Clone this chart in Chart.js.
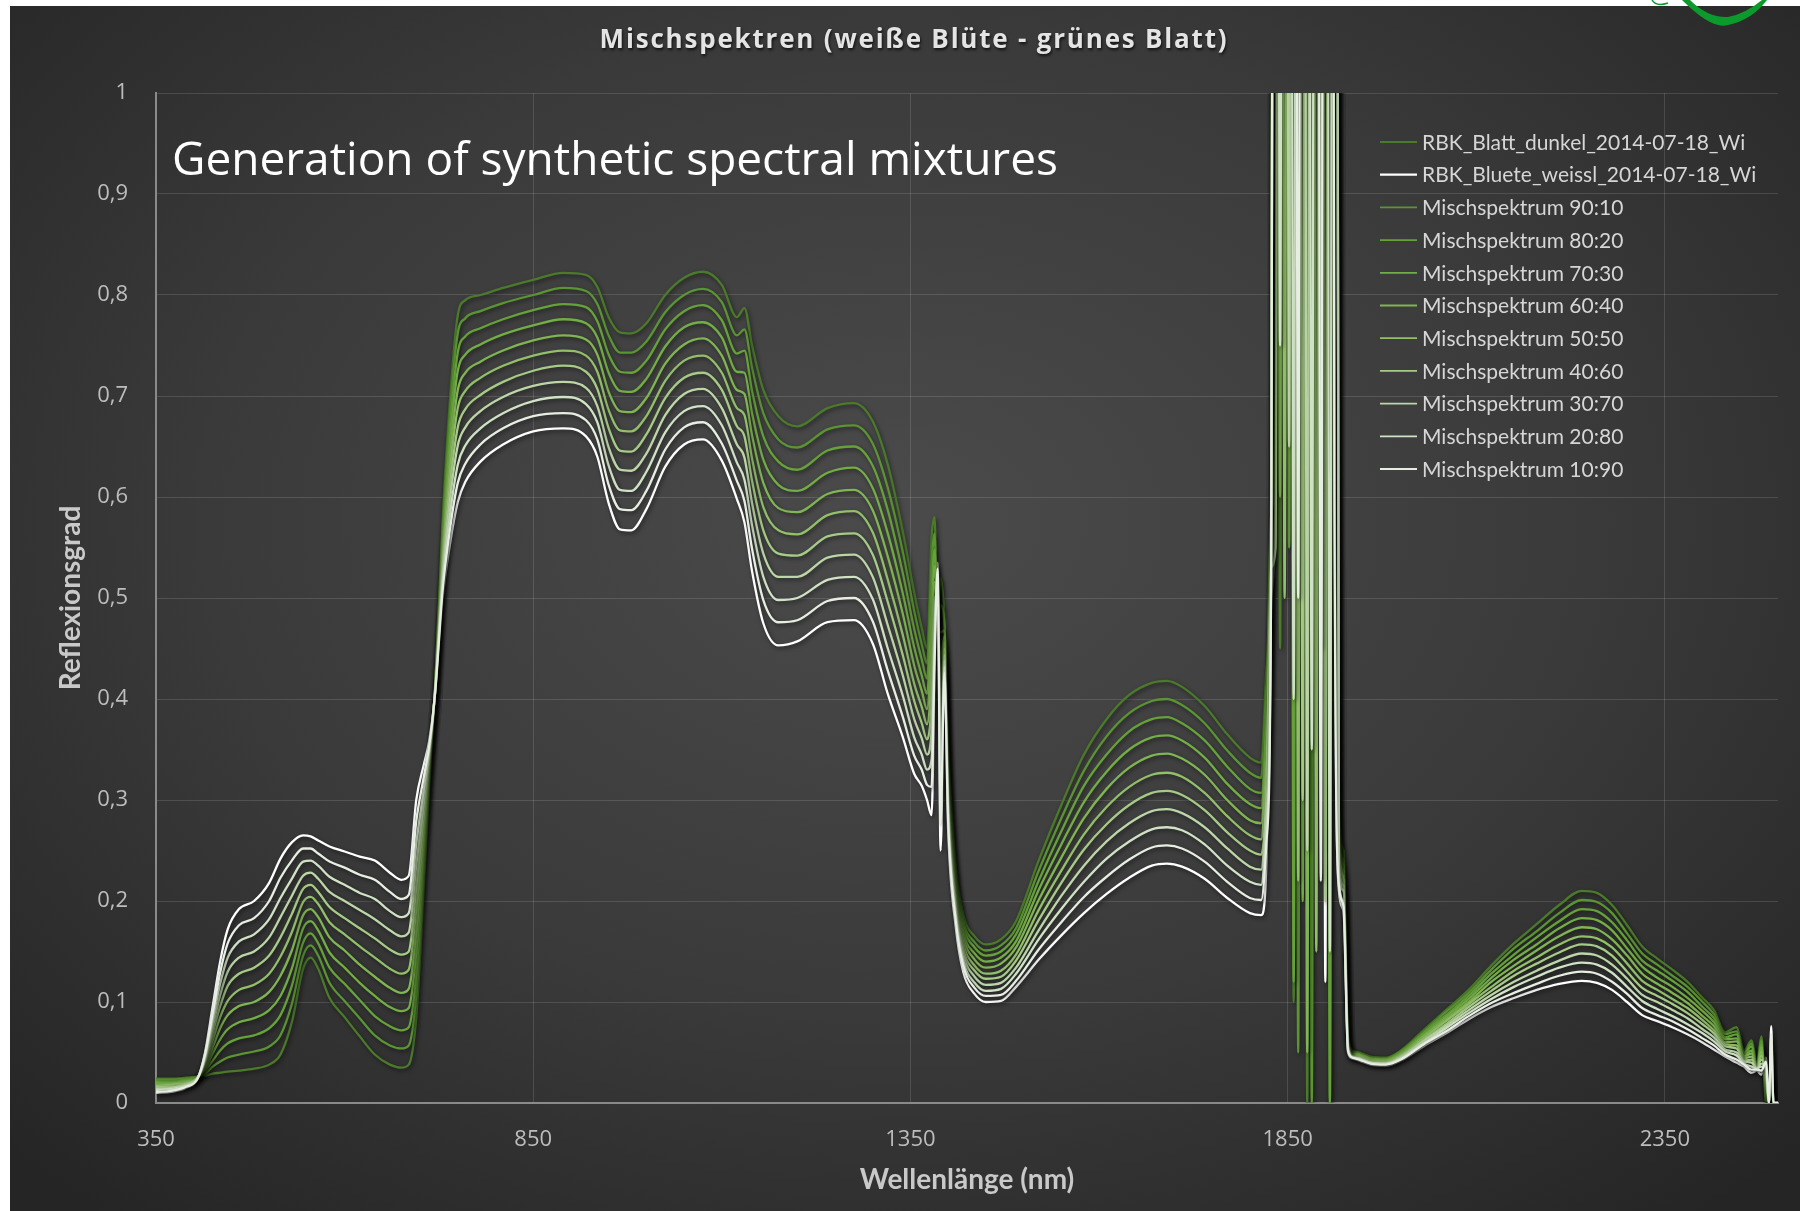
<!DOCTYPE html>
<html lang="de">
<head>
<meta charset="utf-8">
<title>Mischspektren</title>
<script src="https://cdn.jsdelivr.net/npm/chart.js@4.4.1/dist/chart.umd.min.js"></script>
<style>
  html, body { margin:0; padding:0; background:#fff; }
  #wrap { position:relative; width:1800px; height:1211px; }
</style>
</head>
<body>
<div id="wrap"><canvas id="chart-mix" width="1800" height="1211"></canvas></div>
<script>
// ── Data ──────────────────────────────────────────────────────
// wavelength grid (nm), one line per spectral region
const wl = [
  350,370,390,405,415,425,435,445,460,480,500,515,530,545,555,565,580,600,620,640,660,675,685,695,705,712,720,730,740,750,760,
  780,810,850,890,920,935,950,965,980,1000,1025,1050,1075,1100,1120,1130,1140,1155,1175,1200,1240,1275,1300,1320,1340,1355,1365,
  1372,1378,1382,1386,1390,1395,1400,1410,1420,1435,1450,1470,1490,
  1520,1550,1580,1610,1640,1670,1690,1710,1740,1770,1800,1815,1822,
  1828,1834,1840,1846,1852,1858,1864,1870,1876,1882,1888,1894,1900,1906,1912,1918,1924,1930,1936,
  1945,1960,1980,2000,2030,2060,2090,2120,2150,2180,2210,2240,2260,2280,2300,2320,2340,2360,2380,2400,2415,2430,2445,2455,2465,2472,2478,2484,2488,2491,2494,2500,
];

const blatt = [
  .024,.024,.025,.026,.027,.029,.030,.031,.032,.034,.038,.048,.080,.133,.144,.133,.104,.085,.066,.048,.038,.035,.038,.085,.215,.310,.415,.580,.700,.780,.795,
  .800,.807,.815,.822,.820,.808,.778,.763,.762,.772,.800,.817,.823,.810,.778,.787,.750,.706,.680,.670,.688,.693,.675,.632,.565,.505,.470,
  .450,.560,.580,.470,.520,.480,.360,.235,.186,.165,.157,.162,.180,
  .240,.295,.345,.380,.404,.416,.418,.412,.393,.365,.342,.337,.430,
  .62,3,.45,3,3,.10,3,3,0,3,3,3,3,0,3,.30,.25,.07,.052,
  .050,.046,.045,.052,.072,.092,.112,.136,.158,.177,.196,.210,.208,.196,.176,.155,.143,.132,.120,.104,.092,.070,.075,.052,.062,.040,.066,.002,0,0,0,0,
];
const bluete = [
  .010,.011,.015,.024,.050,.095,.140,.172,.192,.200,.218,.242,.258,.265,.264,.260,.254,.249,.244,.240,.228,.221,.225,.300,.335,.358,.405,.500,.555,.595,.615,
  .635,.652,.665,.668,.660,.640,.594,.568,.567,.588,.630,.652,.657,.636,.598,.575,.527,.475,.453,.457,.476,.478,.455,.405,.362,.326,.314,
  .300,.285,.420,.535,.250,.420,.270,.175,.130,.108,.100,.101,.115,
  .142,.166,.188,.207,.223,.235,.237,.234,.222,.203,.188,.186,.240,
  .50,.62,3,3,3,3,.30,3,.20,3,3,3,.12,3,.64,.21,.19,.05,.044,
  .042,.038,.037,.042,.056,.069,.083,.095,.104,.112,.118,.121,.119,.112,.100,.087,.081,.075,.068,.060,.053,.046,.040,.036,.030,.032,.028,.045,0,.076,0,0,
];
const mix90 = [
  .023,.023,.024,.026,.029,.036,.041,.045,.048,.051,.056,.067,.098,.146,.156,.146,.119,.101,.084,.067,.057,.054,.057,.107,.227,.315,.414,.572,.686,.762,.777,
  .784,.792,.800,.807,.804,.791,.760,.743,.743,.754,.783,.800,.806,.793,.760,.766,.728,.683,.657,.649,.667,.671,.653,.609,.545,.487,.454,
  .435,.532,.564,.477,.493,.474,.351,.229,.180,.159,.151,.156,.173,
  .230,.282,.329,.363,.386,.398,.400,.394,.376,.349,.327,.322,.411,
  .60,3,3,.58,3,3,.05,3,3,0,3,3,3,3,3,.29,.24,.068,.051,
  .049,.045,.044,.051,.070,.090,.109,.132,.153,.170,.188,.201,.199,.188,.168,.148,.137,.126,.115,.100,.088,.068,.071,.050,.059,.039,.062,.006,0,.008,0,0,
];
const mix80 = [
  .021,.021,.023,.026,.032,.042,.052,.059,.064,.067,.074,.087,.116,.159,.168,.158,.134,.118,.102,.086,.076,.072,.075,.128,.239,.320,.413,.564,.671,.743,.759,
  .767,.776,.785,.791,.788,.774,.741,.724,.723,.735,.766,.784,.790,.775,.742,.745,.705,.660,.635,.627,.646,.650,.631,.587,.524,.469,.439,
  .420,.505,.548,.483,.466,.468,.342,.223,.175,.154,.146,.150,.167,
  .220,.269,.314,.345,.368,.380,.382,.376,.359,.333,.311,.307,.392,
  .58,.70,3,3,3,.12,3,3,3,3,.30,3,3,0,3,.28,.235,.066,.050,
  .048,.044,.043,.050,.069,.087,.106,.128,.147,.164,.180,.192,.190,.179,.161,.141,.131,.121,.110,.095,.084,.065,.068,.049,.056,.038,.058,.011,0,.015,0,0,
];
const mix70 = [
  .020,.020,.022,.025,.034,.049,.063,.073,.080,.084,.092,.106,.133,.173,.180,.171,.149,.134,.119,.106,.095,.091,.094,.150,.251,.324,.412,.556,.657,.725,.741,
  .751,.761,.770,.776,.772,.758,.723,.705,.704,.717,.749,.768,.773,.758,.724,.723,.683,.637,.612,.606,.624,.629,.609,.564,.504,.451,.423,
  .405,.478,.532,.490,.439,.462,.333,.217,.169,.148,.140,.144,.160,
  .211,.256,.298,.328,.350,.362,.364,.359,.342,.316,.296,.292,.373,
  .57,3,3,3,.55,3,3,.20,3,3,3,3,.25,3,3,.27,.23,.064,.049,
  .048,.044,.043,.049,.067,.085,.103,.124,.142,.157,.173,.183,.181,.171,.153,.135,.124,.115,.104,.091,.080,.063,.064,.047,.052,.038,.055,.015,0,.023,0,0,
];
const mix60 = [
  .018,.019,.021,.025,.036,.055,.074,.087,.096,.100,.110,.126,.151,.186,.192,.184,.164,.151,.137,.125,.114,.109,.113,.171,.263,.329,.411,.548,.642,.706,.723,
  .734,.745,.755,.760,.756,.741,.704,.685,.684,.698,.732,.751,.757,.740,.706,.702,.661,.614,.589,.585,.603,.607,.587,.541,.484,.433,.408,
  .390,.450,.516,.496,.412,.456,.324,.211,.164,.142,.134,.138,.154,
  .201,.243,.282,.311,.332,.344,.346,.341,.325,.300,.280,.277,.354,
  .56,3,.60,3,3,3,3,3,.05,3,3,.40,3,3,3,.26,.225,.062,.048,
  .047,.043,.042,.048,.066,.083,.100,.120,.136,.151,.165,.174,.172,.162,.146,.128,.118,.109,.099,.086,.076,.060,.061,.046,.049,.037,.051,.019,0,.030,0,0,
];
const mix50 = [
  .017,.018,.020,.025,.039,.062,.085,.101,.112,.117,.128,.145,.169,.199,.204,.197,.179,.167,.155,.144,.133,.128,.132,.193,.275,.334,.410,.540,.628,.688,.705,
  .718,.730,.740,.745,.740,.724,.686,.666,.665,.680,.715,.735,.740,.723,.688,.681,.638,.590,.567,.563,.582,.586,.565,.518,.463,.415,.392,
  .375,.423,.500,.503,.385,.450,.315,.205,.158,.136,.128,.131,.147,
  .191,.230,.266,.293,.313,.325,.327,.323,.307,.284,.265,.261,.335,
  .55,3,3,.50,3,3,.22,3,3,3,.15,3,3,3,.70,.25,.22,.060,.047,
  .046,.042,.041,.047,.064,.081,.098,.115,.131,.144,.157,.165,.163,.154,.138,.121,.112,.103,.094,.082,.072,.058,.057,.044,.046,.036,.047,.023,0,.038,0,0,
];
const mix40 = [
  .016,.016,.019,.025,.041,.069,.096,.116,.128,.134,.146,.164,.187,.212,.216,.209,.194,.183,.173,.163,.152,.147,.150,.214,.287,.339,.409,.532,.613,.669,.687,
  .701,.714,.725,.730,.724,.707,.668,.646,.645,.662,.698,.718,.723,.706,.670,.660,.616,.567,.544,.542,.561,.564,.543,.496,.443,.398,.376,
  .360,.395,.484,.509,.358,.444,.306,.199,.152,.131,.123,.125,.141,
  .181,.218,.251,.276,.295,.307,.309,.305,.290,.268,.250,.246,.316,
  .53,.55,3,3,3,3,3,.30,3,3,3,3,.20,3,3,.24,.215,.058,.046,
  .045,.041,.040,.046,.062,.078,.095,.111,.126,.138,.149,.157,.155,.146,.130,.114,.106,.098,.089,.078,.069,.056,.054,.042,.043,.035,.043,.028,0,.046,0,0,
];
const mix30 = [
  .014,.015,.018,.025,.043,.075,.107,.130,.144,.150,.164,.184,.205,.225,.228,.222,.209,.200,.191,.182,.171,.165,.169,.236,.299,.344,.408,.524,.599,.651,.669,
  .685,.699,.710,.714,.708,.690,.649,.627,.626,.643,.681,.702,.707,.688,.652,.639,.594,.544,.521,.521,.540,.543,.521,.473,.423,.380,.361,
  .345,.368,.468,.516,.331,.438,.297,.193,.147,.125,.117,.119,.134,
  .171,.205,.235,.259,.277,.289,.291,.287,.273,.252,.234,.231,.297,
  .52,3,3,3,.65,3,3,3,.25,3,3,.45,3,3,3,.23,.21,.056,.046,
  .044,.040,.039,.045,.061,.076,.092,.107,.120,.131,.141,.148,.146,.137,.123,.107,.100,.092,.084,.073,.065,.053,.050,.041,.040,.034,.039,.032,0,.053,0,0,
];
const mix20 = [
  .013,.014,.017,.024,.045,.082,.118,.144,.160,.167,.182,.203,.222,.239,.240,.235,.224,.216,.208,.202,.190,.184,.188,.257,.311,.348,.407,.516,.584,.632,.651,
  .668,.683,.695,.699,.692,.674,.631,.607,.606,.625,.664,.685,.690,.671,.634,.617,.572,.521,.498,.500,.518,.521,.499,.450,.403,.362,.345,
  .330,.340,.452,.522,.304,.432,.288,.187,.141,.119,.111,.113,.128,
  .162,.192,.219,.242,.259,.271,.273,.270,.256,.235,.219,.216,.278,
  .51,3,.75,3,3,.40,3,3,3,.35,3,3,3,.15,3,.22,.20,.054,.045,
  .044,.040,.039,.044,.059,.074,.089,.103,.115,.125,.134,.139,.137,.129,.115,.101,.093,.086,.078,.069,.061,.051,.047,.039,.036,.034,.036,.036,0,.061,0,0,
];
const mix10 = [
  .011,.012,.016,.024,.048,.088,.129,.158,.176,.183,.200,.223,.240,.252,.252,.247,.239,.233,.226,.221,.209,.202,.206,.279,.323,.353,.406,.508,.570,.614,.633,
  .652,.668,.680,.683,.676,.657,.612,.588,.587,.606,.647,.669,.674,.653,.616,.596,.549,.498,.476,.478,.497,.500,.477,.428,.382,.344,.330,
  .315,.313,.436,.529,.277,.426,.279,.181,.136,.114,.106,.107,.121,
  .152,.179,.204,.224,.241,.253,.255,.252,.239,.219,.203,.201,.259,
  .50,3,3,3,3,3,.50,3,3,3,3,.22,3,3,.60,.215,.195,.052,.045,
  .043,.039,.038,.043,.058,.071,.086,.099,.109,.118,.126,.130,.128,.120,.108,.094,.087,.081,.073,.064,.057,.048,.043,.038,.033,.033,.032,.041,0,.068,0,0,
];

const labels = [
  'RBK_Blatt_dunkel_2014-07-18_Wi', 'RBK_Bluete_weissl_2014-07-18_Wi',
  'Mischspektrum 90:10', 'Mischspektrum 80:20', 'Mischspektrum 70:30', 'Mischspektrum 60:40', 'Mischspektrum 50:50',
  'Mischspektrum 40:60', 'Mischspektrum 30:70', 'Mischspektrum 20:80', 'Mischspektrum 10:90',
];
const series = [blatt, bluete, mix90, mix80, mix70, mix60, mix50, mix40, mix30, mix20, mix10];
const xTicks = [350, 850, 1350, 1850, 2350];

// ── Colours ───────────────────────────────────────────────────
const C = {
  grid:'rgba(255,255,255,0.13)', axis:'#8a8a8a', tick:'#bdbdbd', title:'#c9c9c9', legend:'#d6d6d6',
  lines:['#4a7a2a','#ffffff','#5a9433','#66a23a','#72ad45','#80b553','#92bf6a','#a6cb86','#bcd6a8','#d0e2c6','#e6eee2'],
};

// ── Plugins ───────────────────────────────────────────────────
const backdrop = {
  id:'backdrop',
  beforeDraw(chart) {
    const { ctx, width, height } = chart;
    ctx.save();
    ctx.fillStyle = '#fff'; ctx.fillRect(0, 0, width, height);
    // dark panel, lighter towards the middle
    ctx.translate(900, 520); ctx.scale(1.4, 1);
    const g = ctx.createRadialGradient(0, 0, 0, 0, 0, 900);
    g.addColorStop(0, '#4b4b4b'); g.addColorStop(0.55, '#3a3a3a'); g.addColorStop(1, '#252525');
    ctx.fillStyle = g;
    ctx.fillRect((10 - 900) / 1.4, 6 - 520, 1790 / 1.4, 1205);
    ctx.restore();
  },
};

const lineShadow = {
  id:'lineShadow',
  beforeDatasetsDraw(chart) {
    const ctx = chart.ctx;
    ctx.save();
    ctx.shadowColor = 'rgba(0,0,0,0.55)'; ctx.shadowBlur = 4;
    ctx.shadowOffsetX = 1.5; ctx.shadowOffsetY = 2;
  },
  afterDatasetsDraw(chart) { chart.ctx.restore(); },
};

const overlay = {
  id:'overlay',
  afterDraw(chart) {
    const ctx = chart.ctx;
    ctx.save();

    // chart title
    ctx.font = 'bold 26px "Open Sans"';
    ctx.letterSpacing = '1.8px';
    ctx.textAlign = 'center'; ctx.textBaseline = 'middle';
    ctx.shadowColor = 'rgba(0,0,0,0.7)'; ctx.shadowBlur = 3; ctx.shadowOffsetX = 1; ctx.shadowOffsetY = 2;
    ctx.fillStyle = '#e4e4e4';
    ctx.fillText('Mischspektren (weiße Blüte - grünes Blatt)', 914, 41);
    ctx.letterSpacing = '0px';
    ctx.shadowColor = 'transparent';

    // caption
    ctx.font = '46px "Open Sans"';
    ctx.textAlign = 'left'; ctx.textBaseline = 'alphabetic';
    ctx.fillStyle = '#ffffff';
    ctx.fillText('Generation of synthetic spectral mixtures', 172, 175);

    // legend
    ctx.font = '21px Lato';
    ctx.textBaseline = 'middle';
    chart.data.datasets.forEach((ds, i) => {
      const y = 142 + i * 32.7;
      ctx.strokeStyle = ds.borderColor; ctx.lineWidth = i === 1 ? 2.2 : 1.8;
      ctx.beginPath(); ctx.moveTo(1380, y); ctx.lineTo(1417, y); ctx.stroke();
      ctx.fillStyle = C.legend;
      ctx.fillText(ds.label, 1422, y + 1);
    });

    // green swoosh at the top edge
    ctx.fillStyle = '#0c9a2c';
    ctx.beginPath();
    ctx.moveTo(1682, 0);
    ctx.quadraticCurveTo(1712, 30, 1728, 25);
    ctx.quadraticCurveTo(1752, 20, 1767, 0);
    ctx.lineTo(1762, 0);
    ctx.quadraticCurveTo(1745, 14, 1728, 17);
    ctx.quadraticCurveTo(1708, 18, 1690, 0);
    ctx.closePath(); ctx.fill();
    ctx.strokeStyle = '#0c9a2c'; ctx.lineWidth = 1.5;
    ctx.beginPath(); ctx.moveTo(1652, 0); ctx.quadraticCurveTo(1656, 7, 1668, 3); ctx.stroke();
    ctx.restore();
  },
};

// ── Chart ─────────────────────────────────────────────────────
const datasets = series.map((arr, i) => ({
  label: labels[i],
  data: wl.map((x, j) => ({ x, y: arr[j] })),
  borderColor: C.lines[i],
  borderWidth: 2.3,
  pointRadius: 0,
  cubicInterpolationMode: 'monotone',
  order: series.length - i,
}));

new Chart(document.getElementById('chart-mix'), {
  type:'line',
  data:{ datasets },
  plugins:[backdrop, lineShadow, overlay],
  options:{
    responsive:false, animation:false, devicePixelRatio:1,
    layout:{ padding:{ left:28, right:22, top:93, bottom:0 } },
    plugins:{ legend:{ display:false }, tooltip:{ enabled:false }, title:{ display:false } },
    scales:{
      x:{
        type:'linear', min:350, max:2500,
        afterBuildTicks: s => { s.ticks = xTicks.map(value => ({ value })); },
        afterFit: s => { s.height = 108; },
        grid:{ color:C.grid, lineWidth:1, drawTicks:false },
        border:{ color:C.axis, width:2 },
        ticks:{ color:C.tick, font:{ family:'Open Sans', size:22 }, padding:24, maxRotation:0, autoSkip:false,
          callback: v => String(v) },
        title:{ display:true, text:'Wellenlänge (nm)', color:C.title,
          font:{ family:'Lato', size:28, weight:'bold' }, padding:{ top:0, bottom:14 } },
      },
      y:{
        min:0, max:1,
        afterFit: s => { s.width = 128; },
        grid:{ color:C.grid, lineWidth:1, drawTicks:false },
        border:{ color:C.axis, width:2 },
        ticks:{ color:C.tick, font:{ family:'Open Sans', size:22 }, padding:28, stepSize:0.1,
          callback: v => String(Math.round(v * 10) / 10).replace('.', ',') },
        title:{ display:true, text:'Reflexionsgrad', color:C.title,
          font:{ family:'Lato', size:28, weight:'bold' }, padding:{ top:26, bottom:0 } },
      },
    },
  },
});
</script>
</body>
</html>
